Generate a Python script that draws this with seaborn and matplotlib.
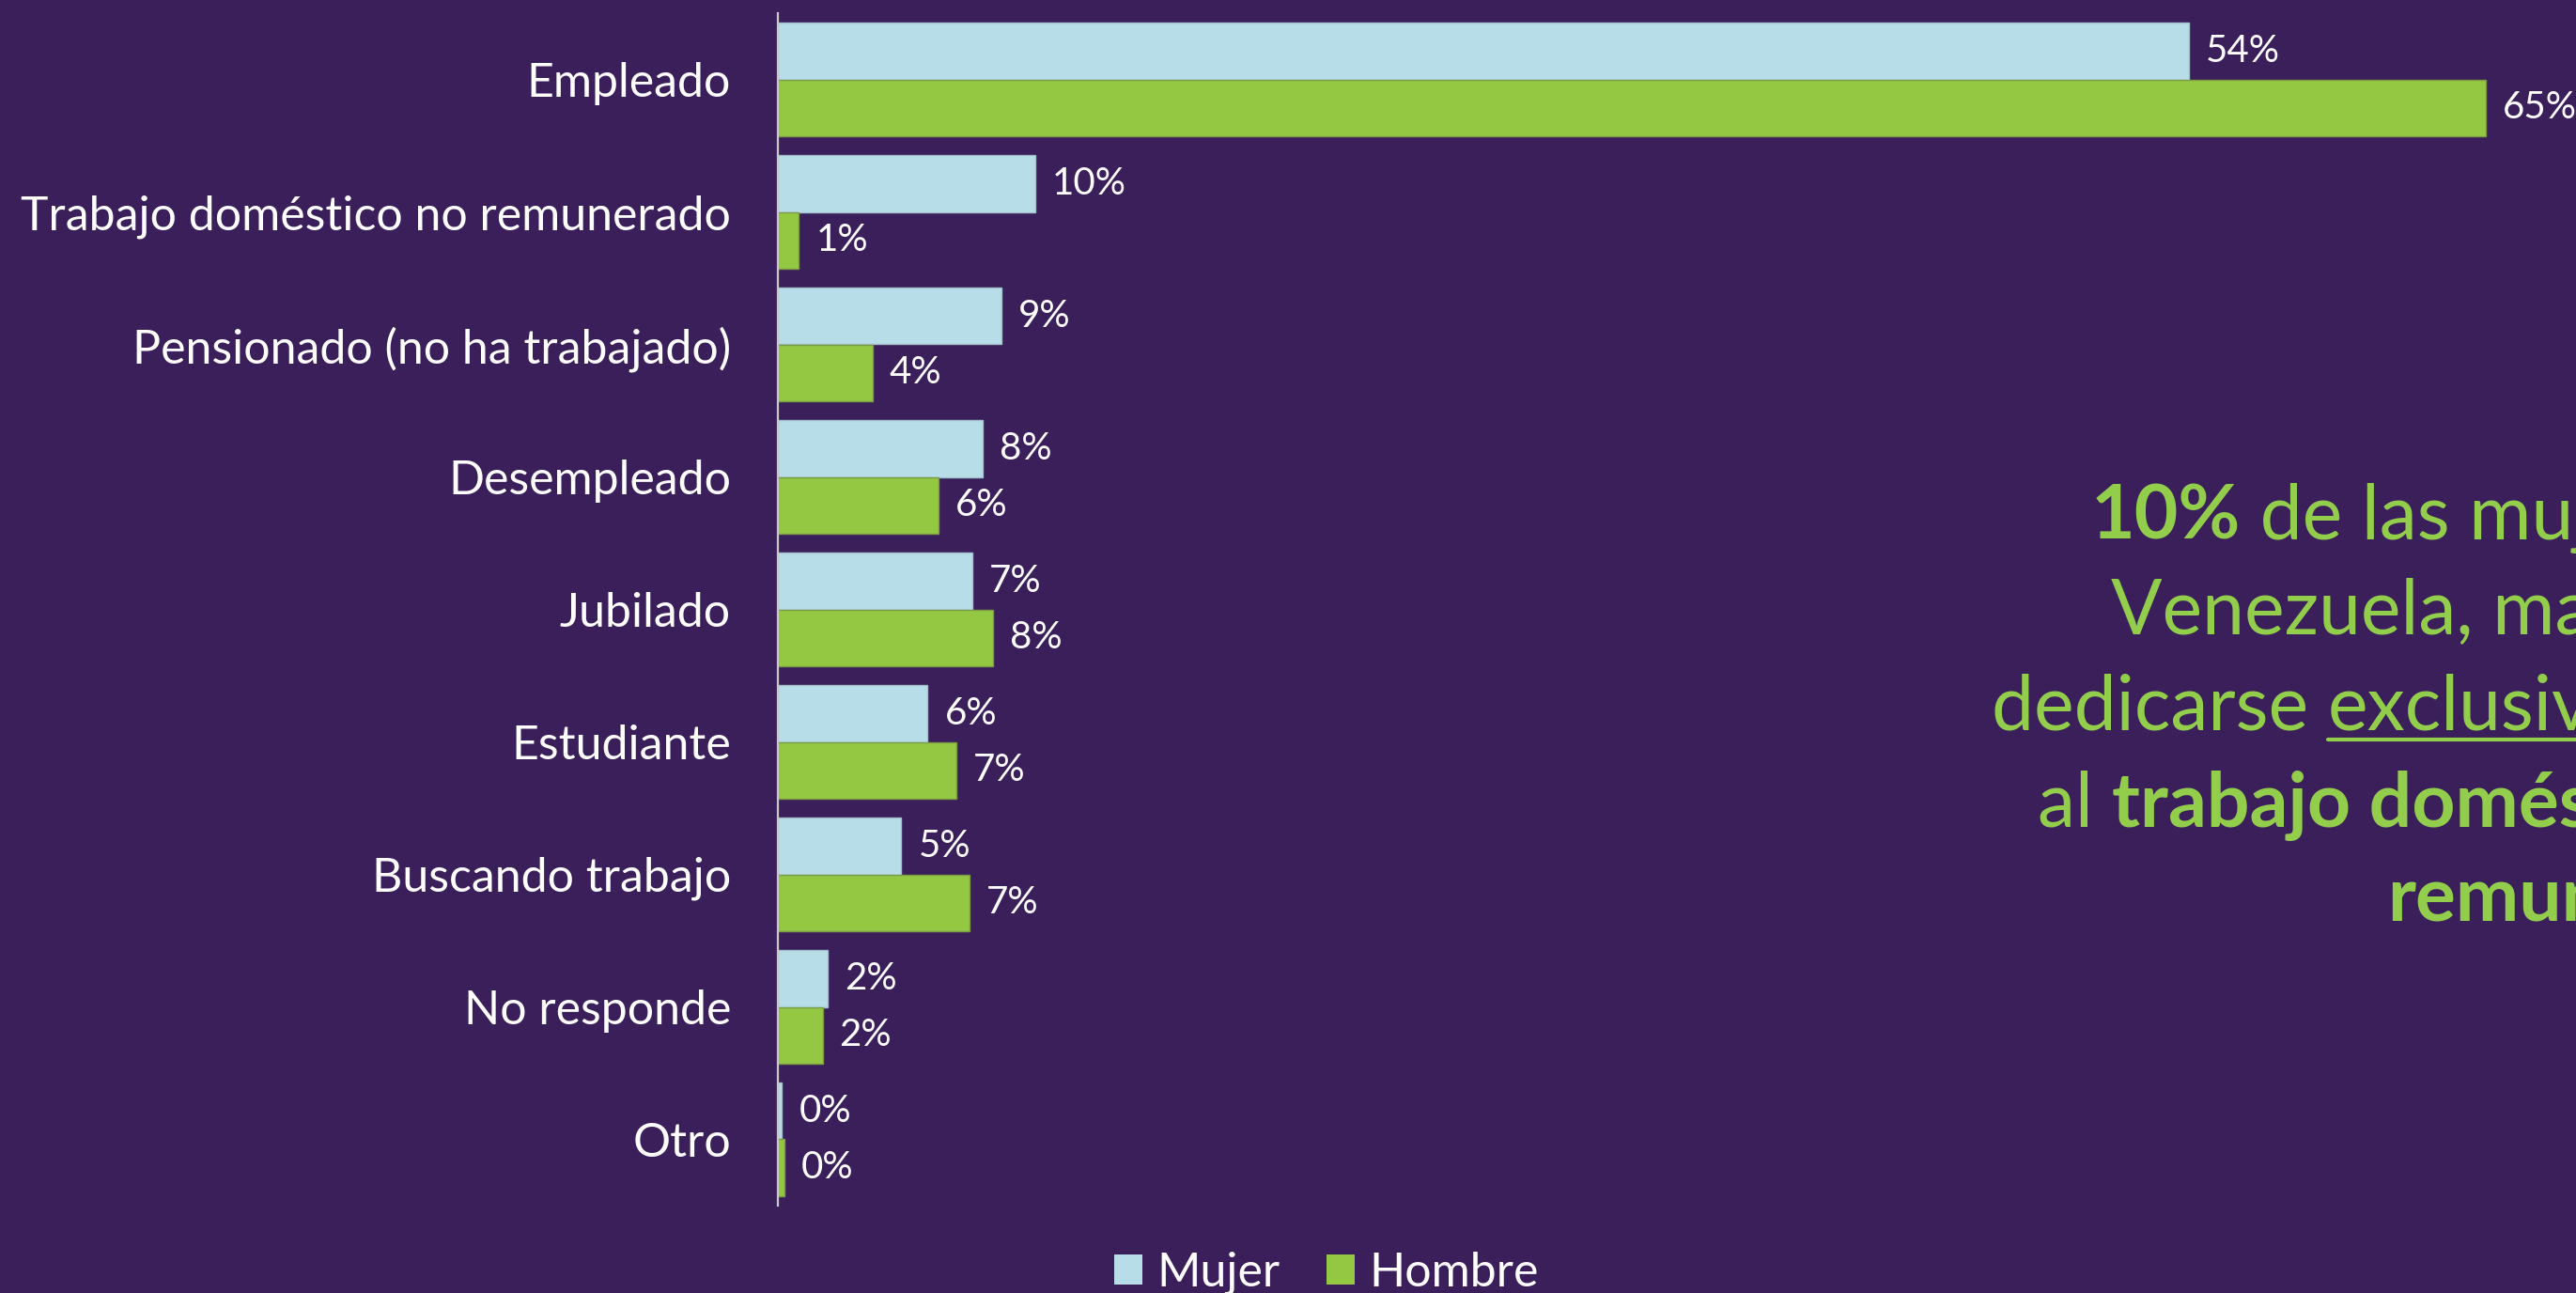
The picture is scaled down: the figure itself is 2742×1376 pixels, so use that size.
import matplotlib
matplotlib.use("Agg")
import matplotlib.pyplot as plt
from matplotlib.patches import Patch
from matplotlib.lines import Line2D
import seaborn as sns
import pandas as pd

# ---------------- data ----------------
categories = ["Empleado", "Trabajo doméstico no remunerado", "Pensionado (no ha trabajado)",
              "Desempleado", "Jubilado", "Estudiante", "Buscando trabajo", "No responde", "Otro"]
mujer = [53.7, 9.8, 8.5, 7.8, 7.4, 5.7, 4.7, 1.9, 0.15]
hombre = [65.0, 0.8, 3.6, 6.1, 8.2, 6.8, 7.3, 1.7, 0.25]
series_names = ["Mujer", "Hombre"]
mujer_labels = ["54%", "10%", "9%", "8%", "7%", "6%", "5%", "2%", "0%"]
hombre_labels = ["65%", "1%", "4%", "6%", "8%", "7%", "7%", "2%", "0%"]

# ---------------- style ----------------
BG = "#3B1F5A"
C_MUJER = "#B7DDE8"
C_HOMBRE = "#94C843"
C_TEXT_GREEN = "#92CD4C"

sns.set_style("white")
plt.rcParams["font.family"] = ["Lato", "DejaVu Sans"]

W, H = 2742, 1376
fig = plt.figure(figsize=(W / 100, H / 100), dpi=100, facecolor=BG)
ax = fig.add_axes([828 / W, 1 - 1283 / H, (W - 828) / W, (1283 - 14) / H])
ax.set_facecolor(BG)

df = pd.DataFrame({
    "cat": categories * 2,
    "val": mujer + hombre,
    "sexo": [series_names[0]] * len(categories) + [series_names[1]] * len(categories),
})

sns.barplot(data=df, y="cat", x="val", hue="sexo", orient="h", order=categories,
            hue_order=series_names, palette=[C_MUJER, C_HOMBRE], width=0.855,
            saturation=1, legend=False, ax=ax)

edge_cols = ["#A3BFCB", "#7A9A44"]
for cont, ec, labs in zip(ax.containers, edge_cols, [mujer_labels, hombre_labels]):
    for p in cont:
        p.set_edgecolor(ec)
        p.set_linewidth(1.0)
    ax.bar_label(cont, labels=labs, padding=13, color="white", fontsize=29)

ax.set_ylim(len(categories) - 0.5, -0.5)
ax.set_xlim(0, (W - 828) / 27.97)
ax.set_xlabel("")
ax.set_ylabel("")
ax.set_xticks([])
ax.tick_params(axis="y", length=0, pad=36, labelsize=36, labelcolor="white")
for s in ["top", "right", "bottom"]:
    ax.spines[s].set_visible(False)
ax.spines["left"].set_color("#C8C8C8")
ax.spines["left"].set_linewidth(1.6)

# ---------------- legend ----------------
handles = [Patch(facecolor=C_MUJER, edgecolor="none", label=series_names[0]),
           Patch(facecolor=C_HOMBRE, edgecolor="none", label=series_names[1])]
fig.legend(handles=handles, loc="center", bbox_to_anchor=(1412 / W, 1 - 1355 / H), ncol=2,
           frameon=False, fontsize=36, labelcolor="white", handlelength=0.6, handleheight=0.6,
           handletextpad=0.3, columnspacing=1.0, borderaxespad=0, borderpad=0)

# ---------------- right annotation ----------------
fig.canvas.draw()
renderer = fig.canvas.get_renderer()
FS = 58
lines = [
    (2226, 574, [("10%", "bold", False), (" de las mujeres en", "normal", False)]),
    (2247, 675, [("Venezuela, manifiestan", "normal", False)]),
    (2120, 777, [("dedicarse ", "normal", False), ("exclusivamente", "normal", True)]),
    (2169, 880, [("al ", "normal", False), ("trabajo doméstico no", "bold", False)]),
    (2541, 980, [("remunerado", "bold", False)]),
]
for x_px, base_px, runs in lines:
    x = x_px
    for txt, wt, und in runs:
        t = fig.text(x / W, 1 - base_px / H, txt, fontsize=FS, fontweight=wt,
                     color=C_TEXT_GREEN, ha="left", va="baseline")
        bb = t.get_window_extent(renderer)
        if und:
            yy = 1 - (base_px + 10) / H
            fig.add_artist(Line2D([bb.x0 / W, bb.x1 / W], [yy, yy], color=C_TEXT_GREEN,
                                  linewidth=3, transform=fig.transFigure))
        x = bb.x1

fig.savefig("out.png", dpi=100, facecolor=BG)
